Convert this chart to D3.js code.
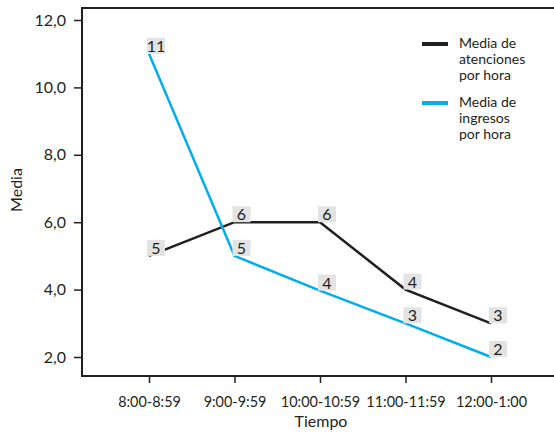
<!DOCTYPE html>
<html>
<head>
<meta charset="utf-8">
<script src="https://cdn.jsdelivr.net/npm/d3@7"></script>
<style>
  body { margin: 0; background: #fff; }
  text { font-family: Lato, "Open Sans", sans-serif; fill: #231f20; }
</style>
</head>
<body>
<script>

let width = 554;
let height = 435;

// data
let categories = ["8:00-8:59", "9:00-9:59", "10:00-10:59", "11:00-11:59", "12:00-1:00"];
let atenciones = [5, 6, 6, 4, 3];
let ingresos = [11, 5, 3.97, 3, 2];
let yTicks = [2, 4, 6, 8, 10, 12];

let frame = { left: 82, top: 8, bottom: 376, right: 554 };

let xScale = d3.scalePoint()
	.domain(categories)
	.range([149, 491]);

let yScale = d3.scaleLinear()
	.domain([2, 12])
	.range([357, 20]);

let svg = d3.select("body")
	.append("svg")
		.attr("width", width)
		.attr("height", height);

// squeeze text a bit, the original font is narrower
function condense(sel, k) {
	sel.each(function() {
		let w = this.getComputedTextLength();
		d3.select(this)
			.attr("textLength", w * k)
			.attr("lengthAdjust", "spacingAndGlyphs");
	});
}

// frame
svg.append("path")
	.attr("d", "M" + frame.right + "," + frame.top + "H" + frame.left + "V" + frame.bottom + "H" + frame.right)
	.style("fill", "none")
	.style("stroke", "#231f20")
	.style("stroke-width", "2px");

let fmt = d => d3.format(".1f")(d).replace(".", ",");

let yAxis = d3.axisLeft(yScale)
	.tickValues(yTicks)
	.tickFormat(fmt)
	.tickSize(8)
	.tickPadding(8);

let gy = svg.append("g")
	.attr("transform", "translate(" + frame.left + ",0)")
	.call(yAxis);
gy.select(".domain").remove();
gy.selectAll("line").style("stroke", "#231f20").style("stroke-width", "1.5px");
gy.selectAll("text").style("font-size", "16px").attr("fill", "#231f20");

let xAxis = d3.axisBottom(xScale)
	.tickSize(7)
	.tickPadding(13);

let gx = svg.append("g")
	.attr("transform", "translate(0," + frame.bottom + ")")
	.call(xAxis);
gx.select(".domain").remove();
gx.selectAll("line").style("stroke", "#231f20").style("stroke-width", "1.5px");
gx.selectAll("text").style("font-size", "16px").attr("fill", "#231f20")
	.call(condense, 0.9);

// axis titles
svg.append("text")
	.attr("x", 321)
	.attr("y", 427)
	.attr("text-anchor", "middle")
	.style("font-size", "16px")
	.text("Tiempo");

svg.append("text")
	.attr("transform", "translate(22,190) rotate(-90)")
	.attr("text-anchor", "middle")
	.style("font-size", "16px")
	.text("Media");

let series = [
	{ name: ["Media de", "atenciones", "por hora"], values: atenciones, color: "#231f20" },
	{ name: ["Media de", "ingresos", "por hora"], values: ingresos, color: "#00aeef" }
];

let line = d3.line()
	.x((d, i) => xScale(categories[i]))
	.y(d => yScale(d));

series.forEach(s => {
	svg.append("path")
		.datum(s.values)
		.attr("d", line)
		.style("fill", "none")
		.style("stroke", s.color)
		.style("stroke-width", "2.5px");
});

// value labels
series.forEach(s => {
	let g = svg.append("g");
	s.values.forEach((v, i) => {
		let x = xScale(categories[i]);
		let y = yScale(v);
		g.append("rect")
			.attr("x", x - 2)
			.attr("y", y - 16)
			.attr("width", 18)
			.attr("height", 16)
			.style("fill", "#e3e3e3");
		g.append("text")
			.attr("x", x + 7)
			.attr("y", y - 2)
			.attr("text-anchor", "middle")
			.style("font-size", "16px")
			.text(Math.round(v));
	});
});

// legend
let legend = svg.append("g").attr("transform", "translate(422,44)");
series.forEach((s, i) => {
	let g = legend.append("g").attr("transform", "translate(0," + (i * 59) + ")");
	g.append("line")
		.attr("x1", 0).attr("x2", 26)
		.attr("y1", 0).attr("y2", 0)
		.style("stroke", s.color)
		.style("stroke-width", "4px");
	g.selectAll("text")
		.data(s.name)
		.join("text")
			.attr("x", 37)
			.attr("y", (d, j) => 4 + j * 16)
			.style("font-size", "14px")
			.text(d => d);
});

</script>
</body>
</html>
